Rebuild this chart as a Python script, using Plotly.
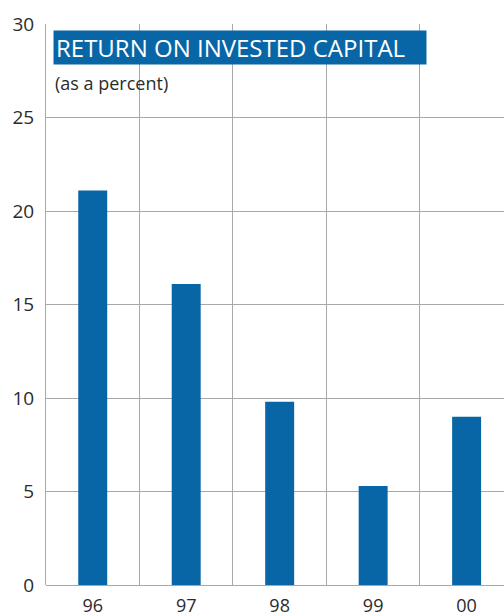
import plotly.graph_objects as go

# Return on invested capital by fiscal year
years = ["96", "97", "98", "99", "00"]
roic_pct = [21.1, 16.1, 9.8, 5.3, 9.0]
y_ticks = [0, 5, 10, 15, 20, 25, 30]

BLUE = "#0866a6"
GRID = "#a8a8a8"
TEXT = "#2b2b2b"

fig = go.Figure(
    go.Bar(
        x=years,
        y=roic_pct,
        width=0.31,
        marker=dict(color=BLUE, line=dict(width=0)),
        hoverinfo="skip",
    )
)

fig.update_layout(
    width=504,
    height=616,
    margin=dict(l=46, r=0, t=24, b=31),
    paper_bgcolor="white",
    plot_bgcolor="white",
    showlegend=False,
    font=dict(family="Open Sans, sans-serif", color=TEXT),
    xaxis=dict(
        type="category",
        range=[-0.5, 4.4],
        tickson="boundaries",
        showgrid=True,
        gridcolor=GRID,
        gridwidth=1,
        ticks="",
        ticklabelstandoff=8,
        tickfont=dict(size=18, color=TEXT),
        showline=False,
        zeroline=False,
        automargin=False,
        fixedrange=True,
    ),
    yaxis=dict(
        range=[0, 30],
        tickvals=y_ticks,
        showgrid=True,
        gridcolor=GRID,
        gridwidth=1.2,
        ticks="",
        ticklabelstandoff=7,
        tickfont=dict(size=19, color=TEXT),
        showline=True,
        linecolor=GRID,
        linewidth=1,
        zeroline=True,
        zerolinecolor=GRID,
        zerolinewidth=1.2,
        automargin=False,
        fixedrange=True,
    ),
    annotations=[
        dict(
            text="RETURN ON INVESTED CAPITAL",
            xref="paper", yref="paper",
            x=0.0153, y=0.9893,
            xanchor="left", yanchor="top",
            showarrow=False,
            bgcolor=BLUE,
            borderpad=2,
            width=368,
            height=29,
            align="left",
            valign="middle",
            font=dict(family="Open Sans, sans-serif", size=24, color="white"),
        ),
        dict(
            text="(as a percent)",
            xref="paper", yref="paper",
            x=0.0153, y=0.895,
            xanchor="left", yanchor="middle",
            showarrow=False,
            font=dict(family="Open Sans, sans-serif", size=18, color=TEXT),
        ),
    ],
)

fig.write_html("out.html")
